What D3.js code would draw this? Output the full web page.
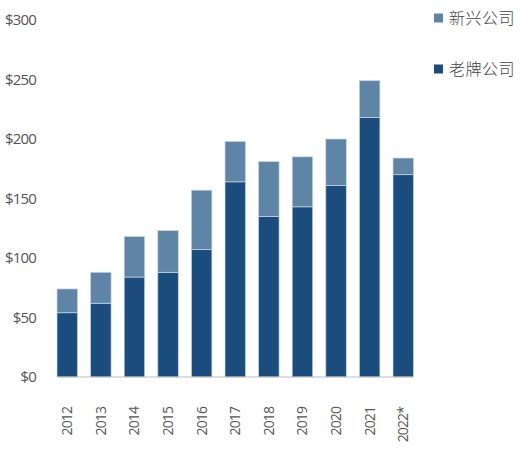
<!DOCTYPE html>
<html>
<head>
<meta charset="utf-8">
<script src="https://cdn.jsdelivr.net/npm/d3@7"></script>
<style>
  html, body { margin: 0; padding: 0; background: #fff; }
  text { font-family: "Open Sans", "Noto Sans", sans-serif; }
</style>
</head>
<body>
<div id="chart"></div>
<script>
// -----------------------------
// Data
// -----------------------------
const years = ["2012", "2013", "2014", "2015", "2016", "2017", "2018", "2019", "2020", "2021", "2022*"];
const incumbent = [54, 62, 84, 88, 107, 164, 135, 143, 161, 218, 170];   // 老牌公司
const emerging  = [20, 26, 34, 35, 50, 34, 46, 42, 39, 31, 14];          // 新兴公司
const yTicks = [0, 50, 100, 150, 200, 250, 300];
const seriesNames = ["新兴公司", "老牌公司"];
const colors = { "新兴公司": "#5e84a6", "老牌公司": "#1a4d7e" };

const width = 520, height = 450;

const svg = d3.select("#chart")
  .append("svg")
  .attr("width", width)
  .attr("height", height);

// -----------------------------
// Scales
// -----------------------------
const x = d3.scaleBand()
  .domain(years)
  .range([57, 413.5])
  .paddingInner(0.39)
  .paddingOuter(0);

const y = d3.scaleLinear()
  .domain([0, 300])
  .range([377, 20]);

// -----------------------------
// Stacked data
// -----------------------------
const rows = years.map((yr, i) => ({ year: yr, "老牌公司": incumbent[i], "新兴公司": emerging[i] }));
const stack = d3.stack().keys(["老牌公司", "新兴公司"])(rows);

svg.append("g")
  .selectAll("g")
  .data(stack)
  .join("g")
  .attr("fill", d => colors[d.key])
  .selectAll("rect")
  .data(d => d)
  .join("rect")
  .attr("x", d => x(d.data.year))
  .attr("y", d => y(d[1]))
  .attr("width", x.bandwidth())
  .attr("height", d => y(d[0]) - y(d[1]))
  .attr("stroke", "#c9d6e3")
  .attr("stroke-width", 0.7);

// -----------------------------
// Baseline
// -----------------------------
svg.append("line")
  .attr("x1", x.range()[0])
  .attr("x2", x.range()[1])
  .attr("y1", y(0))
  .attr("y2", y(0))
  .attr("stroke", "#bdbdbd")
  .attr("stroke-width", 1);

// -----------------------------
// Y axis labels
// -----------------------------
svg.append("g")
  .selectAll("text")
  .data(yTicks)
  .join("text")
  .attr("x", 36)
  .attr("y", d => y(d))
  .attr("dy", "0.35em")
  .attr("text-anchor", "end")
  .style("font-size", "15px")
  .style("fill", "#555")
  .style("letter-spacing", "-0.8px")
  .text(d => "$" + d);

// -----------------------------
// X axis labels (rotated)
// -----------------------------
svg.append("g")
  .selectAll("text")
  .data(years)
  .join("text")
  .attr("transform", d => `translate(${x(d) + x.bandwidth() / 2}, 407) rotate(-90)`)
  .attr("dy", "0.35em")
  .attr("text-anchor", "end")
  .style("font-size", "14px")
  .style("fill", "#555")
  .style("letter-spacing", "-0.9px")
  .text(d => d);

// -----------------------------
// Legend
// -----------------------------
const legend = svg.append("g")
  .selectAll("g")
  .data(seriesNames)
  .join("g")
  .attr("transform", (d, i) => `translate(434, ${18 + i * 51})`);

legend.append("rect")
  .attr("x", 0)
  .attr("y", -4.5)
  .attr("width", 9)
  .attr("height", 9)
  .attr("fill", d => colors[d]);

legend.append("text")
  .attr("x", 15)
  .attr("y", 0)
  .attr("dy", "0.35em")
  .style("font-family", "'Noto Sans CJK SC', sans-serif")
  .style("font-size", "16px")
  .style("font-weight", 300)
  .style("fill", "#444")
  .style("letter-spacing", "0.5px")
  .text(d => d);
</script>
</body>
</html>
